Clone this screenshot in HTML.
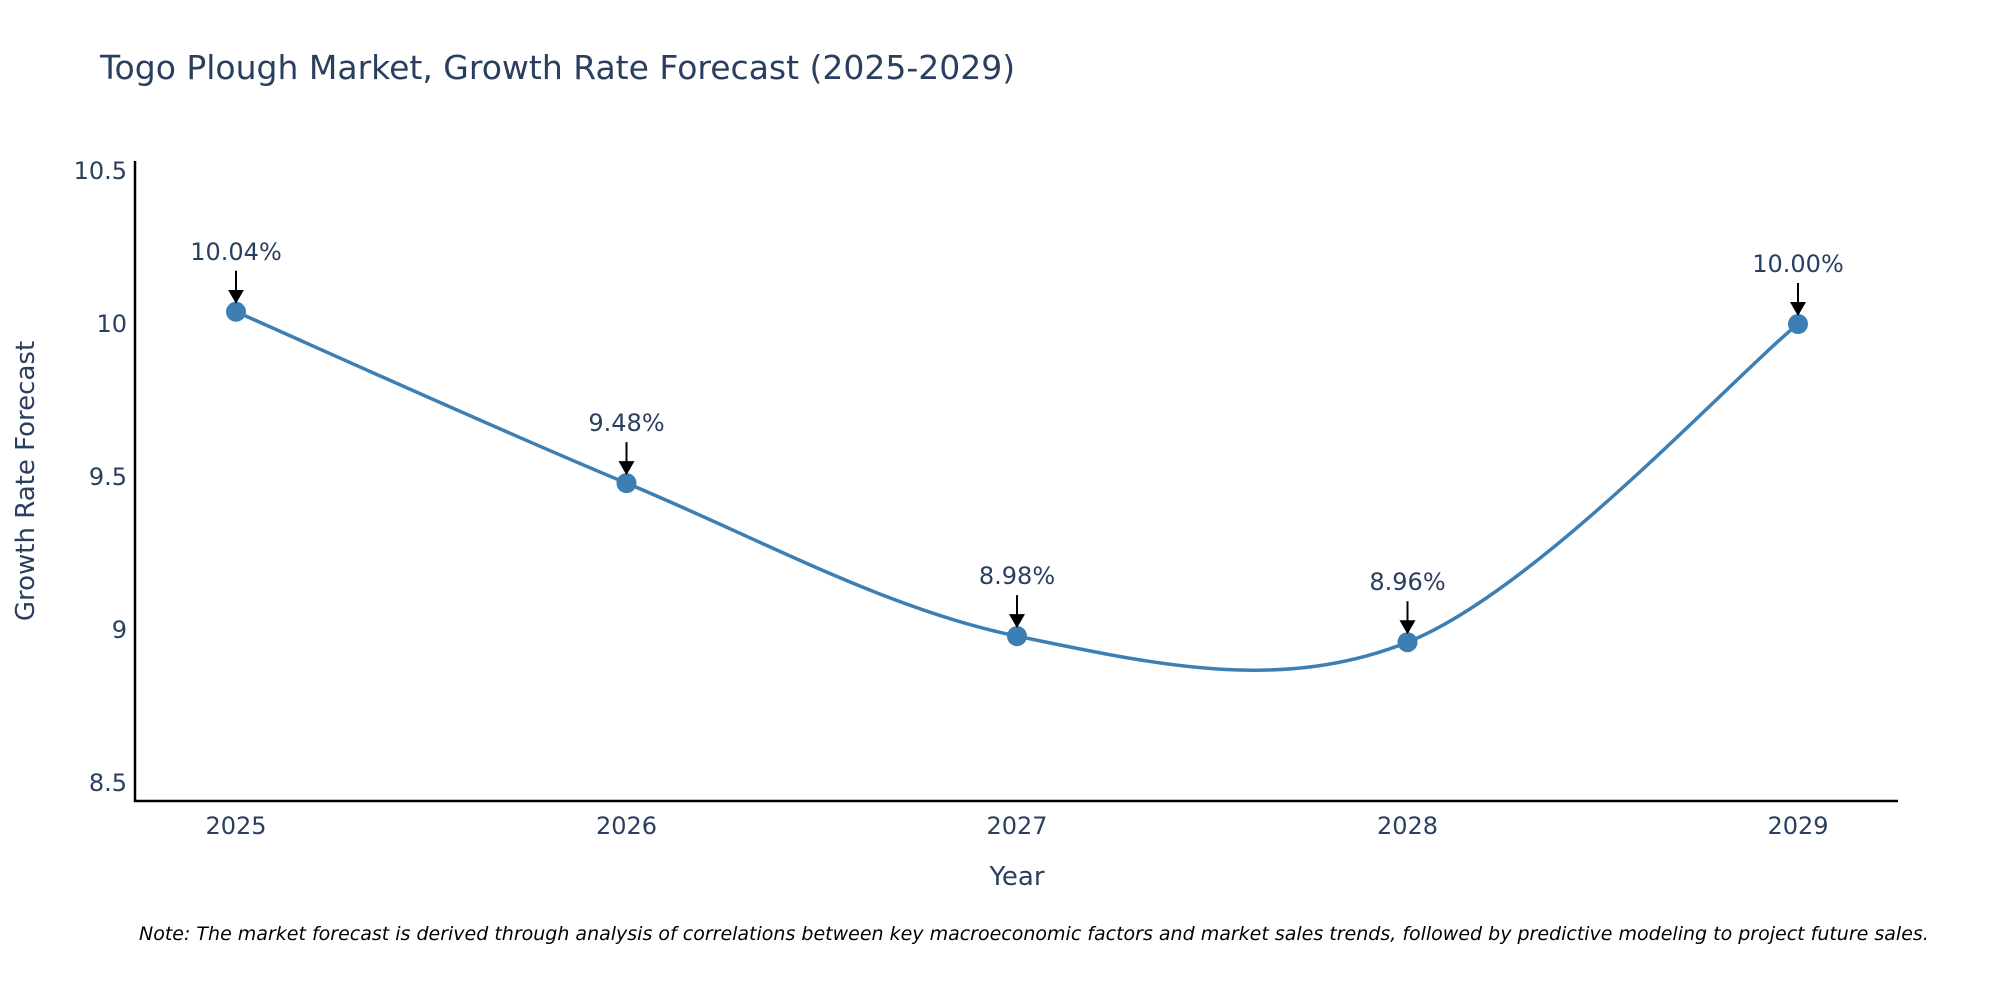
<!DOCTYPE html>
<html><head><meta charset="utf-8"><style>
body{margin:0;background:#fff;}
svg text{font-family:"DejaVu Sans","Liberation Sans",sans-serif;fill:#2a3f5f;}
</style></head><body>
<svg width="2000" height="1000" xmlns="http://www.w3.org/2000/svg">
<text x="100" y="79" font-size="33">Togo Plough Market, Growth Rate Forecast (2025-2029)</text>
<g id="yticks"></g><g id="xticks"></g>
<line x1="135" y1="161" x2="135" y2="802" stroke="#000" stroke-width="2.5"/>
<line x1="134" y1="801" x2="1898" y2="801" stroke="#000" stroke-width="2.5"/>
<text transform="translate(34,481) rotate(-90)" text-anchor="middle" font-size="26">Growth Rate Forecast</text>
<text x="1017" y="885" text-anchor="middle" font-size="26">Year</text>
<path id="line" fill="none" stroke="#3d7fb3" stroke-width="3.5"/>
<g id="marks"></g>
<text x="139" y="940" font-size="19" font-style="italic" style="fill:#000">Note: The market forecast is derived through analysis of correlations between key macroeconomic factors and market sales trends, followed by predictive modeling to project future sales.</text>
<defs><marker id="ah" markerWidth="8" markerHeight="8" refX="6" refY="4" orient="auto" markerUnits="strokeWidth"><path d="M0,0 L7,4 L0,8 z" fill="#000"/></marker></defs>
</svg>
<script>
const years=[2025,2026,2027,2028,2029];
const values=[10.04,9.48,8.98,8.96,10.00];
const labels=["10.04%","9.48%","8.98%","8.96%","10.00%"];
const yTicks=[8.5,9,9.5,10,10.5];
const NS="http://www.w3.org/2000/svg";
const X=v=>236+(v-2025)*390.5;
const Y=v=>324-(v-10)*306;
function mk(t,a,p){const e=document.createElementNS(NS,t);for(const k in a)e.setAttribute(k,a[k]);p.appendChild(e);return e;}
const yt=document.getElementById('yticks');
yTicks.forEach(t=>{const e=mk('text',{x:127,y:Y(t)+8,'text-anchor':'end','font-size':24},yt);e.textContent=String(t);

});
const xt=document.getElementById('xticks');
years.forEach(t=>{const e=mk('text',{x:X(t),y:834,'text-anchor':'middle','font-size':24},xt);e.textContent=String(t);

});
const pts=years.map((y,i)=>[X(y),Y(values[i])]);
let d="M"+pts[0][0]+","+pts[0][1];
for(let i=0;i<pts.length-1;i++){const p0=pts[Math.max(0,i-1)],p1=pts[i],p2=pts[i+1],p3=pts[Math.min(pts.length-1,i+2)];
const k=1/6;
d+=` C${p1[0]+(p2[0]-p0[0])*k},${p1[1]+(p2[1]-p0[1])*k} ${p2[0]-(p3[0]-p1[0])*k},${p2[1]-(p3[1]-p1[1])*k} ${p2[0]},${p2[1]}`;}
document.getElementById('line').setAttribute('d',d);
const g=document.getElementById('marks');
pts.forEach((p,i)=>{const c=mk('circle',{cx:p[0],cy:p[1],r:10,fill:'#3d7fb3'},g);


const a=mk('line',{x1:p[0],y1:p[1]-41,x2:p[0],y2:p[1]-10,stroke:'#000','stroke-width':2,'marker-end':'url(#ah)'},g);


const t=mk('text',{x:p[0],y:p[1]-52,'text-anchor':'middle','font-size':24},g);t.textContent=labels[i];

});
</script>
</body></html>
